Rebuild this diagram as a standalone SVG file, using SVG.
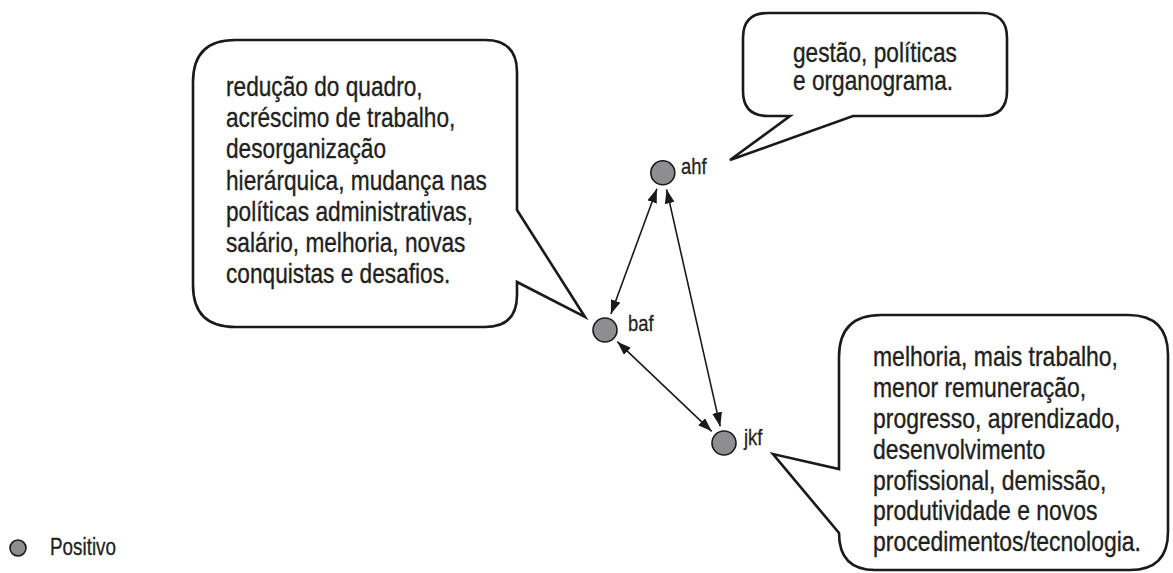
<svg xmlns="http://www.w3.org/2000/svg" width="1173" height="573" viewBox="0 0 1173 573">
<style>
  .bubble { fill: #ffffff; stroke: #1a1a1a; stroke-width: 2.6; stroke-linejoin: miter; }
  .txt { font-family: 'Liberation Sans', Arial, sans-serif; font-size: 28px; fill: #231f20; stroke: #231f20; stroke-width: 0.35; }
  .lbl { font-family: 'Liberation Sans', Arial, sans-serif; font-size: 22.5px; fill: #231f20; stroke: #231f20; stroke-width: 0.3; }
  .leg { font-family: 'Liberation Sans', Arial, sans-serif; font-size: 23px; fill: #231f20; stroke: #231f20; stroke-width: 0.3; }
  .node { fill: #8e8e91; stroke: #1a1a1a; stroke-width: 1.6; }
  .edge { stroke: #1a1a1a; stroke-width: 1.6; fill: none; marker-start: url(#ah); marker-end: url(#ah); }
</style>
<defs>
  <marker id="ah" viewBox="0 0 14 10" refX="14" refY="5" markerWidth="14" markerHeight="10" markerUnits="userSpaceOnUse" orient="auto-start-reverse">
    <path d="M0,0 L14,5 L0,10 Z" fill="#1a1a1a"/>
  </marker>
</defs>
<rect width="1173" height="573" fill="#ffffff"/>

<g id="bubble-baf">
  <path class="bubble" d="M235,40 H485 Q517,40 517,72 V210 L585,317 L517,282 V295 Q517,327 485,327 H235 Q193,327 193,285 V82 Q193,40 235,40 Z"/>
  <text class="txt" transform="translate(226 0) scale(0.81 1)">
    <tspan x="0" y="96">redução do quadro,</tspan>
    <tspan x="0" y="127.2">acréscimo de trabalho,</tspan>
    <tspan x="0" y="158.4">desorganização</tspan>
    <tspan x="0" y="189.6">hierárquica, mudança nas</tspan>
    <tspan x="0" y="220.8">políticas administrativas,</tspan>
    <tspan x="0" y="252">salário, melhoria, novas</tspan>
    <tspan x="0" y="283.2">conquistas e desafios.</tspan>
  </text>
</g>

<g id="bubble-ahf">
  <path class="bubble" d="M768,13 H982 Q1007,13 1007,38 V91 Q1007,116 982,116 H853 L730,160 L790,116 H768 Q743,116 743,91 V38 Q743,13 768,13 Z"/>
  <text class="txt" transform="translate(793 0) scale(0.81 1)">
    <tspan x="0" y="62">gestão, políticas</tspan>
    <tspan x="0" y="90">e organograma.</tspan>
  </text>
</g>

<g id="bubble-jkf">
  <path class="bubble" d="M881,315 H1128 Q1168,315 1168,355 V532 Q1168,570 1130,570 H875 Q839,570 839,533 L773,454 L839,469 V357 Q839,315 881,315 Z"/>
  <text class="txt" transform="translate(873 0) scale(0.82 1)">
    <tspan x="0" y="366.5">melhoria, mais trabalho,</tspan>
    <tspan x="0" y="397.3">menor remuneração,</tspan>
    <tspan x="0" y="428.1">progresso, aprendizado,</tspan>
    <tspan x="0" y="458.9">desenvolvimento</tspan>
    <tspan x="0" y="489.7">profissional, demissão,</tspan>
    <tspan x="0" y="520.5">produtividade e novos</tspan>
    <tspan x="0" y="551.3">procedimentos/tecnologia.</tspan>
  </text>
</g>

<g id="connectors">
  <line class="edge" x1="656.9" y1="188.8" x2="610.9" y2="314"/>
  <line class="edge" x1="666.6" y1="189.4" x2="720.2" y2="426.4"/>
  <line class="edge" x1="617.3" y1="341.7" x2="711.7" y2="431.3"/>
</g>

<g id="node-ahf">
  <circle class="node" cx="662.8" cy="172.8" r="12"/>
  <text class="lbl" transform="translate(681 0) scale(0.82 1)" x="0" y="174">ahf</text>
</g>
<g id="node-baf">
  <circle class="node" cx="605" cy="330" r="12"/>
  <text class="lbl" transform="translate(628 0) scale(0.82 1)" x="0" y="331">baf</text>
</g>
<g id="node-jkf">
  <circle class="node" cx="724" cy="443" r="12"/>
  <text class="lbl" transform="translate(744 0) scale(0.82 1)" x="0" y="445">jkf</text>
</g>

<g id="legend">
  <circle class="node" cx="18" cy="548" r="8"/>
  <text class="leg" transform="translate(50 0) scale(0.82 1)" x="0" y="555">Positivo</text>
</g>
</svg>
